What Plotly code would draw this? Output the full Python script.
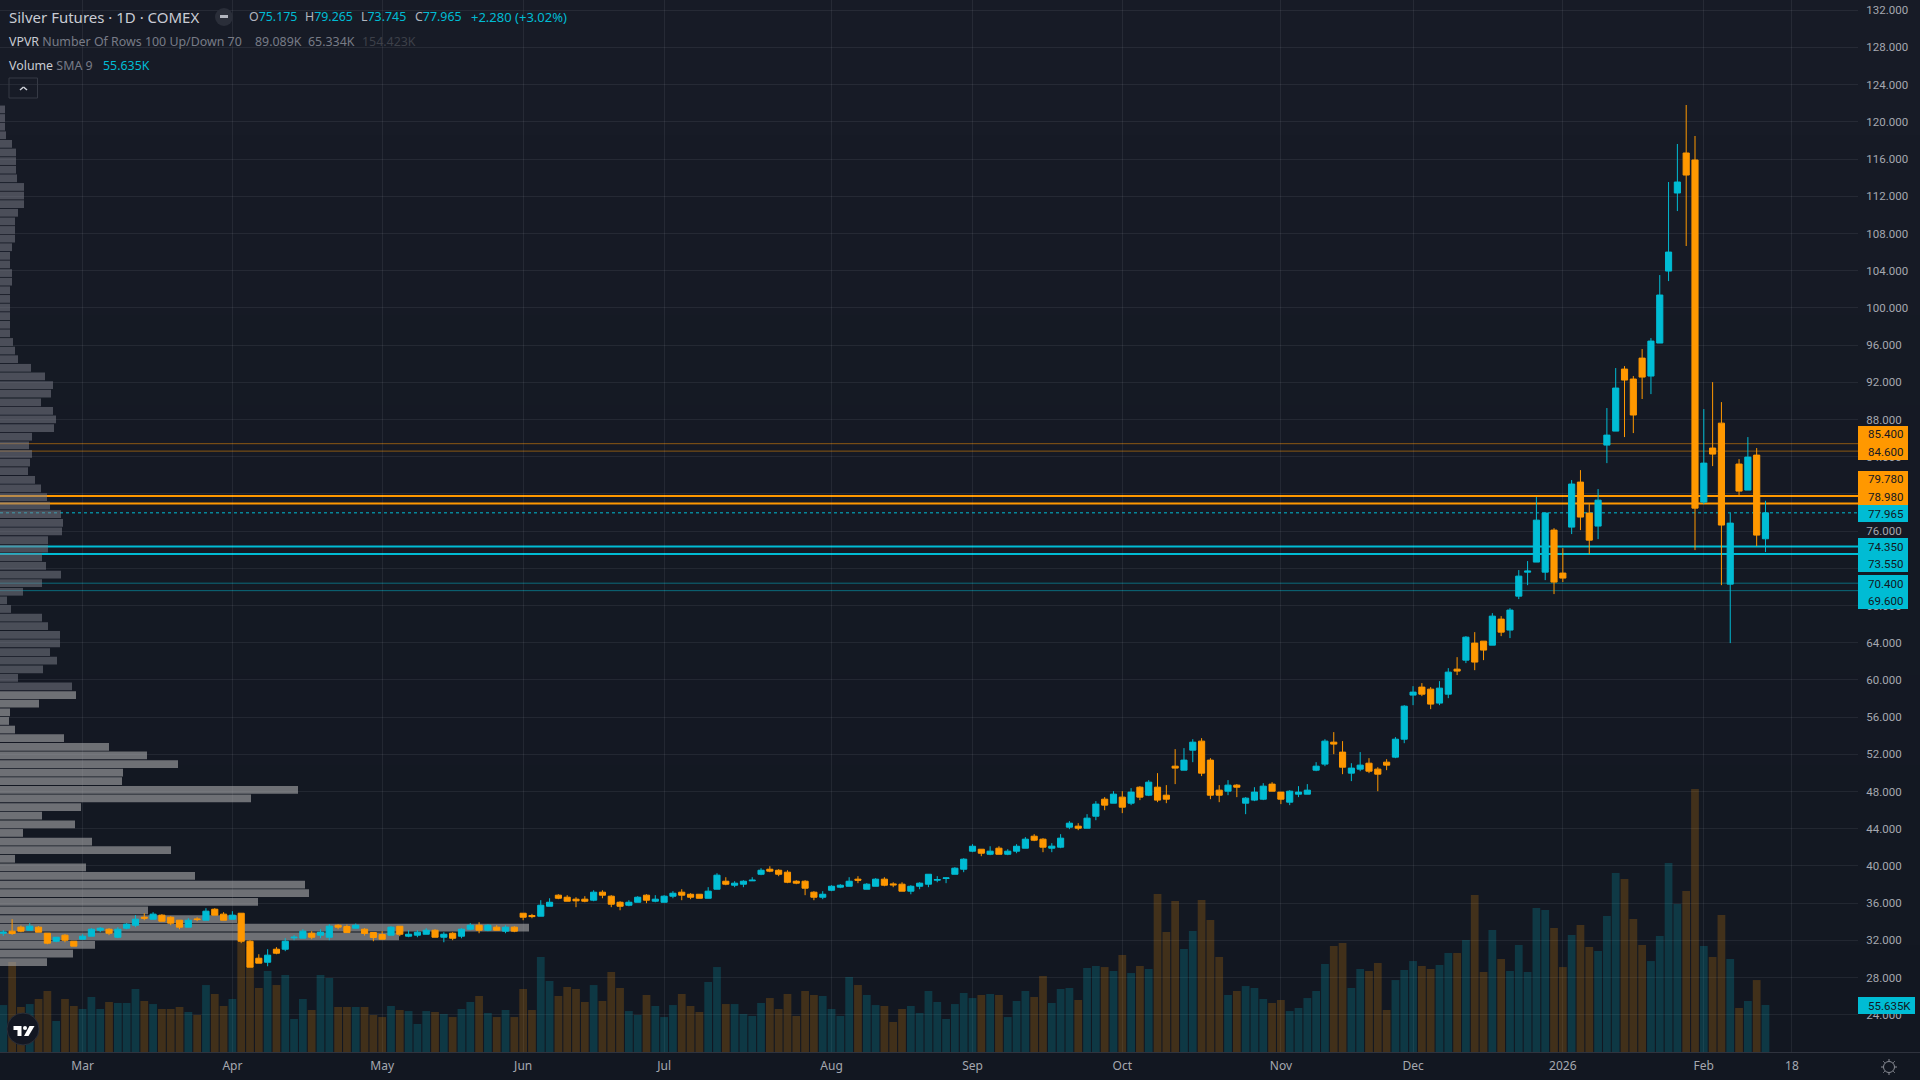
#!/usr/bin/env python3
"""Silver futures daily chart with volume and a visible-range volume profile."""

import plotly.graph_objects as go

# ── Data ─────────────────────────────────────────────────────────────────────

opens = [
    32.77, 32.99, 33.42, 33.10, 33.42, 32.77, 31.91, 32.56, 31.91, 32.13,
    32.45, 33.10, 33.20, 32.34, 33.31, 33.63, 34.49, 34.28, 34.71, 34.49,
    34.17, 33.42, 34.31, 34.17, 35.35, 34.82, 34.28, 34.92, 31.91, 30.08,
    29.65, 31.05, 31.05, 32.27, 32.24, 32.77, 32.56, 32.34, 33.63, 33.49,
    33.31, 33.20, 32.84, 32.63, 32.56, 33.52, 32.45, 32.56, 32.66, 33.09,
    32.34, 32.77, 32.45, 33.20, 33.63, 33.09, 33.42, 32.99, 33.42, 34.92,
    34.67, 34.60, 35.67, 36.86, 36.64, 36.43, 36.43, 36.32, 37.18, 36.75,
    36.10, 35.78, 36.10, 36.86, 36.21, 36.10, 36.75, 37.18, 36.96, 36.96,
    36.53, 37.50, 38.36, 37.93, 38.04, 38.40, 39.11, 39.65, 39.54, 39.33,
    38.36, 38.36, 37.18, 36.64, 37.39, 37.72, 37.82, 38.58, 37.50, 37.82,
    38.58, 38.07, 38.04, 37.29, 37.82, 38.04, 38.47, 38.65, 39.11, 39.65,
    41.59, 41.80, 41.26, 41.91, 41.26, 41.59, 41.91, 43.20, 42.88, 41.91,
    42.02, 44.17, 44.28, 44.06, 45.35, 47.18, 46.75, 47.40, 46.75, 48.47,
    47.61, 48.47, 47.61, 50.73, 50.30, 52.45, 53.42, 51.38, 48.15, 48.04,
    48.69, 46.75, 47.08, 47.18, 48.80, 47.94, 46.86, 47.72, 47.72, 50.30,
    50.95, 53.31, 52.24, 49.98, 50.41, 51.05, 50.41, 51.16, 51.70, 53.63,
    58.37, 59.23, 59.01, 57.51, 58.47, 61.16, 62.13, 63.96, 64.17, 63.74,
    66.54, 65.36, 69.01, 71.59, 72.67, 71.59, 76.11, 71.49, 76.43, 81.27,
    77.94, 76.54, 85.25, 86.75, 93.42, 92.35, 94.60, 92.67, 96.22, 103.96,
    112.35, 116.65, 115.90, 79.12, 84.93, 87.61, 70.30, 83.21, 80.41, 84.17, 75.175,
]
highs = [
    33.10, 34.28, 33.60, 33.85, 33.53, 32.77, 32.34, 32.67, 31.91, 32.67,
    33.31, 33.42, 33.31, 33.42, 33.85, 34.71, 34.92, 35.03, 34.82, 34.60,
    34.17, 34.39, 34.49, 35.46, 35.46, 35.03, 35.14, 34.92, 32.02, 30.51,
    31.05, 31.27, 32.24, 32.56, 33.20, 32.99, 33.20, 33.74, 33.74, 33.70,
    33.81, 33.31, 32.84, 32.99, 33.52, 33.52, 33.09, 33.09, 33.31, 33.20,
    32.88, 32.88, 33.31, 33.85, 33.95, 33.74, 33.63, 33.63, 33.52, 34.92,
    34.85, 36.32, 36.53, 36.96, 36.86, 36.64, 36.75, 37.39, 37.39, 36.86,
    36.21, 36.32, 36.75, 36.96, 36.86, 36.86, 37.29, 37.50, 37.07, 36.96,
    37.72, 39.22, 38.79, 38.36, 38.47, 38.79, 39.76, 39.97, 39.65, 39.54,
    38.47, 38.47, 37.29, 37.29, 37.93, 38.04, 38.79, 38.90, 38.15, 38.68,
    38.79, 38.25, 38.25, 37.93, 38.25, 39.11, 38.90, 38.79, 39.87, 40.83,
    42.34, 41.80, 42.12, 42.12, 41.80, 42.34, 43.10, 43.42, 42.99, 42.45,
    43.42, 44.82, 44.60, 45.57, 46.97, 47.40, 48.04, 48.04, 48.37, 48.58,
    49.23, 49.98, 48.69, 52.56, 52.67, 53.63, 53.74, 51.59, 48.69, 49.23,
    48.80, 47.40, 48.47, 48.90, 49.01, 47.94, 48.15, 48.58, 48.80, 51.16,
    53.63, 54.39, 53.42, 51.05, 52.24, 51.59, 50.62, 51.48, 53.85, 57.29,
    59.33, 59.66, 59.23, 59.87, 61.27, 62.45, 64.71, 65.14, 64.17, 67.18,
    66.86, 67.72, 71.81, 72.78, 79.66, 78.04, 76.32, 74.17, 81.49, 82.56,
    78.90, 80.52, 89.23, 93.53, 93.74, 92.67, 95.57, 96.75, 103.53, 113.53,
    117.62, 121.81, 118.48, 89.12, 92.02, 89.87, 77.94, 83.74, 86.11, 84.93, 79.265,
]
lows = [
    32.49, 32.60, 32.88, 33.10, 32.88, 31.59, 31.80, 31.80, 31.38, 32.13,
    32.45, 32.88, 32.56, 32.24, 33.20, 33.42, 34.17, 34.28, 34.06, 33.63,
    33.20, 33.42, 34.06, 34.17, 34.71, 34.17, 34.28, 31.70, 29.12, 29.55,
    29.22, 30.51, 30.84, 32.02, 32.24, 32.13, 32.24, 32.02, 33.20, 32.84,
    33.31, 32.52, 31.91, 32.13, 32.56, 32.45, 32.34, 32.34, 32.66, 32.34,
    31.80, 32.02, 32.23, 33.09, 32.77, 32.99, 33.09, 32.77, 32.88, 34.17,
    34.38, 34.60, 35.67, 36.43, 36.21, 35.57, 36.10, 36.21, 36.53, 35.57,
    35.24, 35.67, 36.10, 36.00, 36.10, 36.10, 36.53, 36.32, 36.43, 36.53,
    36.53, 37.50, 37.93, 37.72, 37.72, 38.40, 39.01, 39.33, 38.90, 38.15,
    38.04, 36.86, 36.32, 36.43, 37.29, 37.61, 37.82, 38.15, 37.50, 37.82,
    37.82, 37.72, 37.29, 36.96, 37.50, 37.72, 38.25, 38.15, 39.11, 39.33,
    41.48, 41.05, 41.16, 41.26, 41.16, 41.37, 41.91, 42.67, 41.48, 41.48,
    41.91, 43.96, 43.85, 44.06, 44.92, 46.00, 46.75, 45.68, 46.54, 47.08,
    47.51, 46.86, 46.75, 48.80, 50.30, 51.16, 49.66, 47.18, 46.86, 47.61,
    47.40, 45.57, 46.97, 47.08, 48.04, 46.65, 46.54, 47.40, 47.72, 50.19,
    50.73, 52.02, 49.87, 49.12, 50.19, 49.98, 48.04, 50.30, 51.59, 53.20,
    57.29, 58.26, 56.86, 57.29, 58.04, 60.52, 61.81, 61.05, 62.13, 63.74,
    64.71, 64.50, 68.69, 70.19, 72.67, 70.73, 69.23, 70.52, 75.68, 76.11,
    73.53, 75.14, 83.31, 86.75, 86.11, 86.54, 90.20, 90.73, 96.22, 102.88,
    110.41, 106.65, 73.96, 78.90, 82.99, 70.19, 63.96, 79.87, 80.41, 74.39, 73.745,
]
closes = [
    32.88, 32.74, 32.99, 33.53, 32.88, 31.70, 32.34, 32.02, 31.38, 32.45,
    33.20, 33.31, 32.77, 33.20, 33.74, 34.28, 34.39, 34.82, 34.06, 33.85,
    33.42, 34.17, 34.24, 35.14, 34.71, 34.17, 34.71, 31.91, 29.12, 29.55,
    30.41, 30.62, 31.91, 32.34, 32.99, 32.34, 32.88, 33.53, 33.42, 32.84,
    33.63, 32.74, 32.31, 32.13, 33.42, 32.66, 32.66, 32.88, 33.09, 32.34,
    32.66, 32.23, 33.20, 33.63, 33.09, 33.63, 33.09, 33.42, 32.99, 34.49,
    34.56, 35.78, 36.10, 36.53, 36.21, 36.25, 36.21, 37.18, 36.86, 35.89,
    35.67, 36.10, 36.64, 36.32, 36.43, 36.75, 37.07, 36.86, 36.64, 36.53,
    37.29, 39.01, 38.04, 38.15, 38.36, 38.47, 39.54, 39.44, 39.11, 38.25,
    38.15, 37.61, 36.64, 36.96, 37.82, 37.93, 38.36, 38.47, 38.04, 38.58,
    37.93, 37.97, 37.29, 37.82, 38.15, 39.11, 38.54, 38.72, 39.76, 40.73,
    42.12, 41.37, 41.59, 41.26, 41.59, 42.12, 42.88, 42.77, 42.02, 42.13,
    42.99, 44.60, 44.06, 45.14, 46.65, 46.54, 47.72, 46.32, 47.94, 47.40,
    49.01, 47.08, 47.18, 50.52, 51.38, 53.31, 49.98, 47.61, 47.61, 48.69,
    48.47, 47.29, 47.94, 48.58, 48.04, 47.18, 48.04, 47.94, 48.15, 50.73,
    53.42, 53.10, 50.62, 50.52, 50.84, 50.19, 49.87, 50.84, 53.63, 57.18,
    58.69, 58.47, 57.40, 59.12, 60.84, 60.95, 64.60, 61.92, 63.21, 66.86,
    65.14, 67.51, 71.16, 71.70, 77.18, 77.94, 70.52, 70.95, 81.06, 77.51,
    75.03, 79.33, 86.32, 91.38, 92.24, 88.48, 92.56, 96.43, 101.38, 106.00,
    113.53, 114.28, 78.47, 83.31, 84.28, 76.65, 76.86, 80.30, 83.96, 75.57, 77.965,
]
# volume in thousands of contracts
volume_k = [
    55.6, 106.6, 53.3, 56.8, 62.8, 72.2, 36.7, 62.8, 54.5, 50.9,
    65.1, 50.9, 59.2, 58.0, 58.0, 74.6, 60.4, 56.8, 50.9, 50.9,
    53.3, 47.4, 43.8, 79.3, 68.7, 54.5, 62.8, 132.6, 124.3, 75.8,
    95.9, 79.3, 91.2, 39.1, 62.8, 49.7, 91.2, 87.6, 53.3, 53.3,
    53.3, 53.3, 43.8, 41.4, 54.5, 49.7, 48.5, 33.2, 48.5, 47.4,
    45.0, 41.4, 50.9, 59.2, 66.3, 46.2, 41.4, 49.7, 41.4, 74.6,
    49.7, 112.5, 84.1, 66.3, 77.0, 74.6, 59.2, 79.3, 60.4, 94.7,
    75.8, 48.5, 43.8, 67.5, 54.5, 41.4, 55.6, 68.7, 54.5, 47.4,
    82.9, 100.6, 56.8, 56.8, 45.0, 42.6, 58.0, 63.9, 50.9, 68.7,
    42.6, 72.2, 67.5, 66.3, 50.9, 42.6, 88.8, 79.3, 67.5, 55.6,
    54.5, 35.5, 50.9, 54.5, 46.2, 72.2, 59.2, 39.1, 56.8, 69.9,
    63.9, 67.5, 68.7, 67.5, 41.4, 60.4, 72.2, 65.1, 90.0, 58.0,
    74.6, 75.8, 61.6, 99.5, 101.8, 100.6, 95.9, 114.8, 93.5, 101.8,
    98.3, 187.1, 142.1, 178.8, 122.0, 143.3, 180.0, 156.3, 112.5, 67.5,
    72.2, 78.1, 75.8, 62.8, 58.0, 61.6, 48.5, 52.1, 63.9, 72.2,
    104.2, 125.5, 129.1, 75.8, 98.3, 95.9, 105.4, 49.7, 85.2, 97.1,
    107.7, 101.8, 98.3, 103.0, 117.2, 117.2, 132.6, 185.9, 94.7, 144.4,
    110.1, 95.9, 126.7, 94.7, 170.5, 168.1, 146.8, 100.6, 138.5, 150.4,
    124.3, 119.6, 161.0, 211.9, 204.8, 157.5, 126.7, 107.7, 137.3, 223.8,
    175.2, 190.6, 311.4, 125.5, 112.5, 162.2, 110.1, 52.1, 60.4, 85.2, 55.635,
]
# volume profile: 100 rows between the high and the low, top row first
profile_high = 121.8
profile_low = 29.2
profile_volume = [
    5, 5, 5, 6, 12, 16, 16, 16, 17, 24,
    24, 24, 18, 15, 15, 15, 12, 10, 10, 12,
    12, 10, 10, 10, 10, 10, 10, 13, 15, 18,
    31, 45, 53, 51, 41, 53, 56, 54, 32, 29,
    32, 30, 28, 35, 41, 47, 50, 61, 63, 62,
    48, 48, 42, 46, 61, 42, 23, 7, 11, 42,
    48, 60, 60, 50, 57, 43, 18, 72, 76, 39,
    10, 9, 15, 64, 109, 147, 178, 123, 122, 298,
    251, 81, 42, 75, 23, 92, 171, 15, 86, 195,
    305, 309, 258, 148, 237, 529, 399, 95, 73, 47,
]
value_area_first_row = 68

price_ticks = list(range(24, 133, 4))
date_ticks = [9, 26, 43, 59, 75, 94, 110, 127, 145, 160, 177, 193, 203]
date_labels = ["Mar", "Apr", "May", "Jun", "Jul", "Aug", "Sep", "Oct", "Nov", "Dec",
               "2026", "Feb", "18"]

level_prices = [85.4, 84.6, 79.78, 78.98, 74.35, 73.55, 70.4, 69.6]
last_price = 77.965

# ── Style ────────────────────────────────────────────────────────────────────

W, H = 1920, 1080
PANE_R, PANE_B = 1858, 1052
UP = "#00bcd4"
DOWN = "#ff9800"
GRID = "rgba(240,243,250,0.07)"
TEXT = "#a5a8b0"
FONT = "Noto Sans"
SCALE_FONT = "Roboto"


def px(x):
    return x / W


def py(y):
    return 1 - y / H


def rect(x0, y0, x1, y1, fill, layer="above", line=None):
    return dict(type="rect", xref="paper", yref="paper", x0=px(x0), x1=px(x1),
                y0=py(y0), y1=py(y1), fillcolor=fill, layer=layer,
                line=line or dict(width=0))


def label(x, y, text, size=12.4, color=TEXT, family=FONT):
    # annotations sit 2px right of their anchor because of the border padding
    return dict(xref="paper", yref="paper", x=px(x - 2), y=py(y), text=text, showarrow=False,
                xanchor="left", yanchor="middle", align="left",
                font=dict(family=family, size=size, color=color))


def span(text, color):
    return f'<span style="color:{color}">{text}</span>'


def poly(points, fill):
    path = "M " + " L ".join(f"{px(a):.5f},{py(b):.5f}" for a, b in points) + " Z"
    return dict(type="path", xref="paper", yref="paper", path=path, fillcolor=fill,
                line=dict(width=0), layer="above")


def seg(x0, y0, x1, y1, color, width=1):
    return dict(type="line", xref="paper", yref="paper", x0=px(x0), y0=py(y0), x1=px(x1),
                y1=py(y1), line=dict(color=color, width=width), layer="above")


def circle(cx, cy, r, fill, line=None):
    return dict(type="circle", xref="paper", yref="paper", x0=px(cx - r), x1=px(cx + r),
                y0=py(cy + r), y1=py(cy - r), fillcolor=fill, layer="above",
                line=line or dict(width=0))


# ── Traces ───────────────────────────────────────────────────────────────────

index = list(range(len(closes)))
bar_colors = ["rgba(0,188,212,0.2)" if c >= o else "rgba(255,152,0,0.2)"
              for o, c in zip(opens, closes)]

row_height = (profile_high - profile_low) / len(profile_volume)
row_prices = [profile_high - row_height * (k + 0.5) for k in range(len(profile_volume))]
row_colors = ["rgba(124,127,138,0.52)" if k < value_area_first_row else "rgba(176,176,178,0.58)"
              for k in range(len(profile_volume))]

fig = go.Figure()
fig.add_trace(go.Bar(x=index, y=volume_k, marker=dict(color=bar_colors, line=dict(width=0)),
                     width=0.88, xaxis="x", yaxis="y", hoverinfo="skip"))
fig.add_trace(go.Bar(x=profile_volume, y=row_prices, orientation="h",
                     marker=dict(color=row_colors, line=dict(width=0)),
                     width=row_height * 0.9, xaxis="x2", yaxis="y2", hoverinfo="skip"))
fig.add_trace(go.Candlestick(
    x=index, open=opens, high=highs, low=lows, close=closes,
    increasing=dict(line=dict(color=UP, width=1), fillcolor=UP),
    decreasing=dict(line=dict(color=DOWN, width=1), fillcolor=DOWN),
    whiskerwidth=0, xaxis="x3", yaxis="y2", hoverinfo="skip",
))

# ── Shapes and texts ─────────────────────────────────────────────────────────

shapes = []

# background gradient, lighter at the top
top_c, bot_c = (23, 27, 38), (18, 23, 33)
BANDS = 24
for b in range(BANDS):
    t = b / (BANDS - 1)
    col = tuple(round(top_c[i] + (bot_c[i] - top_c[i]) * t) for i in range(3))
    shapes.append(rect(0, H * b / BANDS, W, H * (b + 1) / BANDS + 1,
                       f"rgb{col}", layer="below"))

level_styles = [
    ("rgba(255,152,0,0.5)", 1), ("rgba(255,152,0,0.5)", 1),
    (DOWN, 2), (DOWN, 2),
    (UP, 2), (UP, 2),
    ("rgba(0,188,212,0.5)", 1), ("rgba(0,188,212,0.5)", 1),
]
for price, (col, lw) in zip(level_prices, level_styles):
    shapes.append(dict(type="line", xref="paper", yref="y2", x0=0, x1=px(PANE_R), y0=price, y1=price,
                       line=dict(color=col, width=lw), layer="below"))
shapes.append(dict(type="line", xref="paper", yref="y2", x0=0, x1=px(PANE_R), y0=last_price,
                   y1=last_price, line=dict(color=UP, width=1, dash="dot"), layer="below"))

# pane border above the time scale
shapes.append(seg(0, PANE_B + 0.5, W, PANE_B + 0.5, "#2f333e", 1))

# price tags on the scale
tag_blocks = [
    (426, 460, DOWN), (471, 505, DOWN), (505, 522, UP), (538, 572, UP), (575, 609, UP),
]
for y0, y1, col in tag_blocks:
    shapes.append(rect(PANE_R, y0, 1908, y1, col))
shapes.append(rect(PANE_R, 997, 1915, 1014, UP))

annotations = []
tag_rows = [
    ("85.400", 434), ("84.600", 452), ("79.780", 479), ("78.980", 497), ("77.965", 514),
    ("74.350", 547), ("73.550", 564), ("70.400", 584), ("69.600", 601), ("55.635K", 1006),
]
for txt, y in tag_rows:
    annotations.append(label(1868, y, txt, size=11.5, color="#131722", family=SCALE_FONT))

# legend lines
DIM = "#787b86"
LABEL_C = "#b2b5be"
annotations.append(label(9, 17, "Silver Futures · 1D · COMEX", size=15, color="#c9ccd4"))
annotations.append(label(249, 17, span("O", LABEL_C) + span("75.175", UP)))
annotations.append(label(305, 17, span("H", LABEL_C) + span("79.265", UP)))
annotations.append(label(361, 17, span("L", LABEL_C) + span("73.745", UP)))
annotations.append(label(415, 17, span("C", LABEL_C) + span("77.965", UP)))
annotations.append(label(471, 17, span("+2.280 (+3.02%)", UP), size=13))
annotations.append(label(9, 41, span("VPVR", "#c9ccd4") + span(" Number Of Rows 100 Up/Down 70", DIM)))
annotations.append(label(255, 41, span("89.089K", DIM)))
annotations.append(label(308, 41, span("65.334K", DIM)))
annotations.append(label(362, 41, span("154.423K", "#3d4049")))
annotations.append(label(9, 65, span("Volume", "#c9ccd4") + span(" SMA 9", DIM)))
annotations.append(label(103, 65, span("55.635K", UP)))

# hide-indicators pill next to the title
shapes.append(circle(224, 17, 9, "#2a2e39"))
shapes.append(seg(220, 16.5, 228, 16.5, "#b2b5be", 3))

# collapse button under the legend
shapes.append(dict(type="rect", xref="paper", yref="paper", x0=px(9), x1=px(37.5), y0=py(98), y1=py(78),
                   fillcolor="rgba(0,0,0,0)", line=dict(color="#363a45", width=1), layer="above"))
shapes.append(seg(20, 90, 23.5, 87, "#d1d4dc", 1.5))
shapes.append(seg(23.5, 87, 27, 90, "#d1d4dc", 1.5))

# logo badge
shapes.append(circle(23, 1029, 16, "#131722", dict(color="#2a2e39", width=1)))
shapes.append(poly([(13.5, 1026), (21.5, 1026), (21.5, 1036), (17.5, 1036), (17.5, 1030), (13.5, 1030)], "#ffffff"))
shapes.append(circle(25, 1028, 2, "#ffffff"))
shapes.append(poly([(29.5, 1026), (34.5, 1026), (28.5, 1036), (24, 1036)], "#ffffff"))

# settings gear in the corner
shapes.append(circle(1889, 1067, 5.5, "rgba(0,0,0,0)", dict(color="#8a8d96", width=1)))
for dx, dy in [(0, -8), (0, 8), (-8, 0), (8, 0), (-5.7, -5.7), (5.7, -5.7), (-5.7, 5.7), (5.7, 5.7)]:
    shapes.append(seg(1889 + dx * 0.75, 1067 + dy * 0.75, 1889 + dx, 1067 + dy, "#8a8d96", 1))

# ── Layout ───────────────────────────────────────────────────────────────────

x_range = [-0.375, 210.5]
x_domain = [0, px(PANE_R)]
y_domain = [py(PANE_B), 1]

fig.update_layout(
    width=W, height=H,
    margin=dict(l=0, r=0, t=0, b=0),
    paper_bgcolor="#131722", plot_bgcolor="rgba(0,0,0,0)",
    showlegend=False,
    hovermode=False,
    boxgap=0.18, boxgroupgap=0.15,
    barmode="overlay",
    font=dict(family=FONT, size=12, color=TEXT),
    shapes=shapes, annotations=annotations,
    xaxis=dict(domain=x_domain, range=x_range, anchor="y", tickmode="array", tickvals=date_ticks,
               ticktext=date_labels, showgrid=True, gridcolor=GRID, gridwidth=1, zeroline=False,
               showline=False, ticks="outside", ticklen=3, tickcolor="rgba(0,0,0,0)",
               rangeslider=dict(visible=False), tickfont=dict(family=FONT, size=12, color=TEXT)),
    xaxis2=dict(domain=x_domain, range=[0, PANE_R], overlaying="x", anchor="y2", visible=False),
    xaxis3=dict(domain=x_domain, range=x_range, overlaying="x", anchor="y2", visible=False,
                rangeslider=dict(visible=False)),
    yaxis=dict(domain=y_domain, range=[0, 1245.6], anchor="x", visible=False, showgrid=False,
               zeroline=False),
    yaxis2=dict(domain=y_domain, range=[20, 133.1], overlaying="y", side="right", anchor="x",
                tickmode="array", tickvals=price_ticks, ticktext=[f"{t:.3f}" for t in price_ticks],
                showgrid=True, gridcolor=GRID, gridwidth=1, zeroline=False, showline=False,
                ticks="outside", ticklen=5, tickcolor="rgba(0,0,0,0)",
                tickfont=dict(family=SCALE_FONT, size=11.5, color=TEXT)),
)

fig.write_html("out.html", config={"displayModeBar": False},
               post_script="document.body.style.margin='0';document.body.style.background='#131722';")
